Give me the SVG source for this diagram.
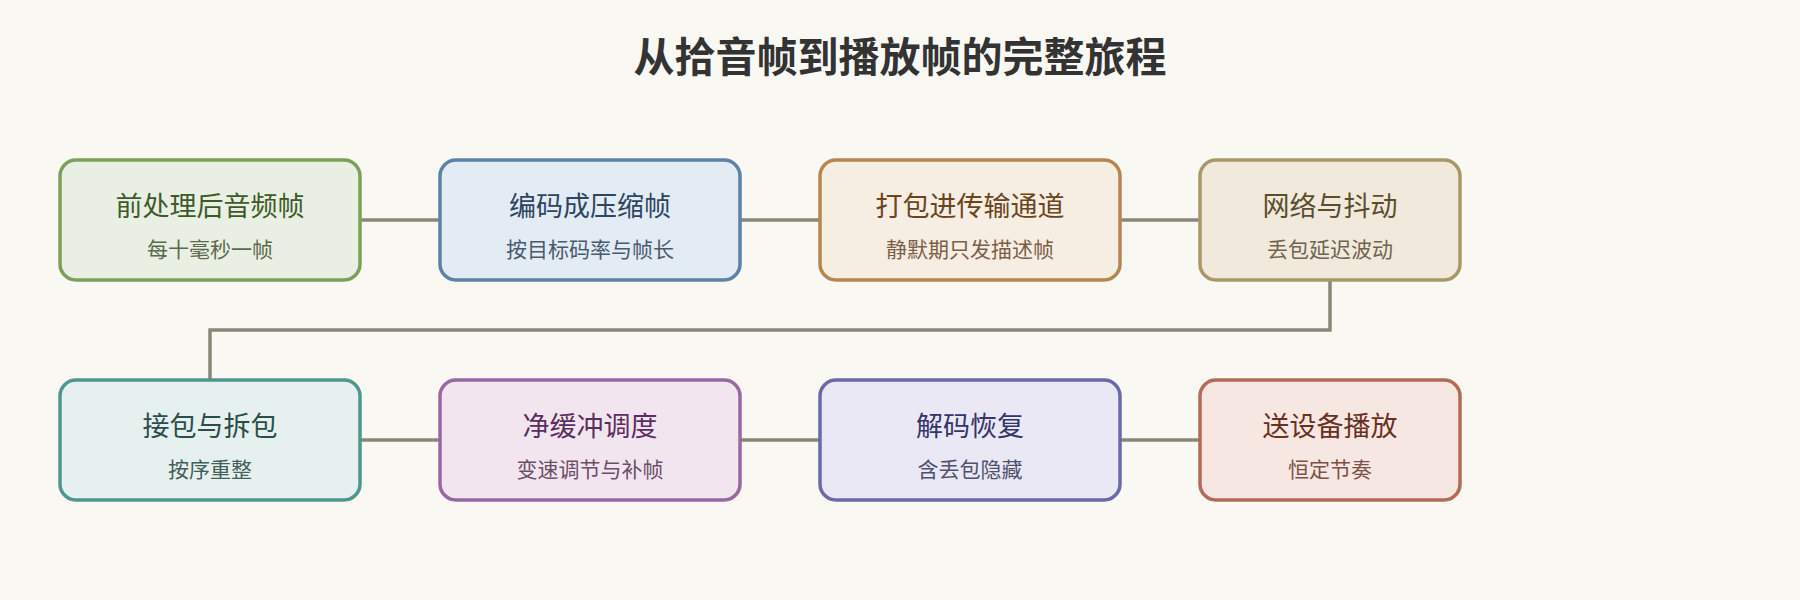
<svg xmlns="http://www.w3.org/2000/svg" width="1800" height="600" viewBox="0 0 1800 600">
<style>
text{font-family:"Liberation Sans","Noto Sans CJK SC",sans-serif;text-anchor:middle}
.t{font-size:27px}.s{font-size:21px}
.box{stroke-width:3.5}
.c{stroke:#8a8678;stroke-width:3.5;fill:none}
</style>
<rect width="1800" height="600" fill="#f9f8f3"/>
<text x="900" y="72" font-size="41" font-weight="bold" fill="#333">从拾音帧到播放帧的完整旅程</text>
<g id="connectors">
<line class="c" x1="360" y1="220" x2="440" y2="220"/>
<line class="c" x1="740" y1="220" x2="820" y2="220"/>
<line class="c" x1="1120" y1="220" x2="1200" y2="220"/>
<polyline class="c" points="1330,280 1330,330 210,330 210,380"/>
<line class="c" x1="360" y1="440" x2="440" y2="440"/>
<line class="c" x1="740" y1="440" x2="820" y2="440"/>
<line class="c" x1="1120" y1="440" x2="1200" y2="440"/>
</g>
<g id="n1"><rect class="box" x="60" y="160" width="300" height="120" rx="16" fill="#e9f0e3" stroke="#7ca05a"/><text class="t" x="210" y="216" fill="#3e5a2a">前处理后音频帧</text><text class="s" x="210" y="257" fill="#5a6a4e">每十毫秒一帧</text></g>
<g id="n2"><rect class="box" x="440" y="160" width="300" height="120" rx="16" fill="#e3ebf5" stroke="#5b83a8"/><text class="t" x="590" y="216" fill="#2e4560">编码成压缩帧</text><text class="s" x="590" y="257" fill="#4a5a6e">按目标码率与帧长</text></g>
<g id="n3"><rect class="box" x="820" y="160" width="300" height="120" rx="16" fill="#f6ede3" stroke="#b5874f"/><text class="t" x="970" y="216" fill="#6a4520">打包进传输通道</text><text class="s" x="970" y="257" fill="#7a6048">静默期只发描述帧</text></g>
<g id="n4"><rect class="box" x="1200" y="160" width="260" height="120" rx="16" fill="#f1eadc" stroke="#a89868"/><text class="t" x="1330" y="216" fill="#5a4e2e">网络与抖动</text><text class="s" x="1330" y="257" fill="#6e6450">丢包延迟波动</text></g>
<g id="n5"><rect class="box" x="60" y="380" width="300" height="120" rx="16" fill="#e6f0ee" stroke="#4e9690"/><text class="t" x="210" y="436" fill="#2a4e4a">接包与拆包</text><text class="s" x="210" y="477" fill="#445e5a">按序重整</text></g>
<g id="n6"><rect class="box" x="440" y="380" width="300" height="120" rx="16" fill="#f3e5ef" stroke="#9a68a0"/><text class="t" x="590" y="436" fill="#5a2e5e">净缓冲调度</text><text class="s" x="590" y="477" fill="#6a4e6a">变速调节与补帧</text></g>
<g id="n7"><rect class="box" x="820" y="380" width="300" height="120" rx="16" fill="#e9e8f4" stroke="#6a6aaa"/><text class="t" x="970" y="436" fill="#35356a">解码恢复</text><text class="s" x="970" y="477" fill="#50506e">含丢包隐藏</text></g>
<g id="n8"><rect class="box" x="1200" y="380" width="260" height="120" rx="16" fill="#f6e7e3" stroke="#b56a58"/><text class="t" x="1330" y="436" fill="#6a3020">送设备播放</text><text class="s" x="1330" y="477" fill="#7a5248">恒定节奏</text></g>
</svg>
